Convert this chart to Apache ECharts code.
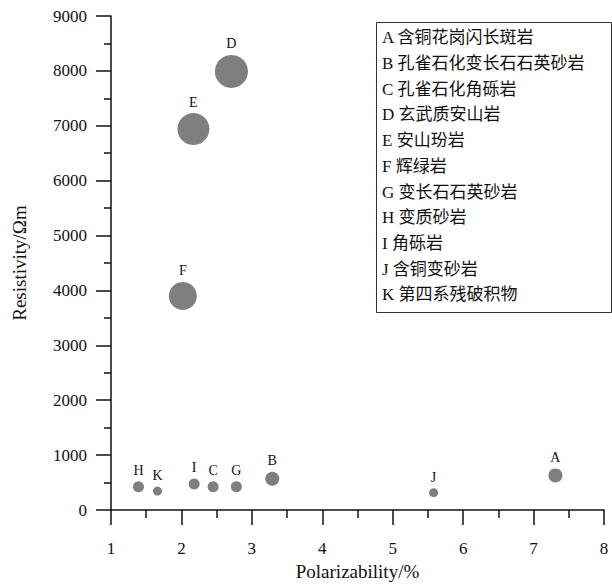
<!DOCTYPE html>
<html><head><meta charset="utf-8">
<script src="https://cdn.jsdelivr.net/npm/echarts@6/dist/echarts.min.js"></script>
<style>html,body{margin:0;padding:0;background:#fff}#c{width:612px;height:587px}</style>
</head><body><div id="c"></div>
<script>
// Data
const codes = ['A','B','C','D','E','F','G','H','I','J','K'];
const rockNames = ['含铜花岗闪长斑岩','孔雀石化变长石石英砂岩','孔雀石化角砾岩','玄武质安山岩','安山玢岩','辉绿岩','变长石石英砂岩','变质砂岩','角砾岩','含铜变砂岩','第四系残破积物'];
const polarizability = [7.31, 3.29, 2.45, 2.71, 2.17, 2.02, 2.78, 1.39, 2.18, 5.58, 1.66];
const resistivity = [630, 570, 425, 7990, 6940, 3900, 425, 425, 475, 315, 345];
const xTicks = [1,2,3,4,5,6,7,8];
const yTicks = [0,1000,2000,3000,4000,5000,6000,7000,8000,9000];

// Styles (marker diameters in px)
const markerSize = [14, 14, 11, 33, 32, 28, 11, 11, 11, 9, 9];

const serif = '"Liberation Serif","Times New Roman",serif';
const cjk = '"Liberation Serif","Noto Sans CJK SC",serif';

const points = codes.map((c,i)=>({name:c, value:[polarizability[i], resistivity[i]], symbolSize: markerSize[i]}));
const legendText = codes.map((c,i)=> c + ' ' + rockNames[i]).join('\n');

const chart = echarts.init(document.getElementById('c'), null, {renderer:'svg'});
chart.setOption({
  animation:false,
  backgroundColor:'#fff',
  grid:{left:111, right:8, top:16, bottom:77, containLabel:false},
  title:{
    text: legendText,
    left: 376, top: 22,
    borderColor:'#333', borderWidth:1,
    padding:[3,27,5,6],
    textStyle:{fontFamily:cjk, fontSize:17, fontWeight:'normal', color:'#111', lineHeight:25.7}
  },
  xAxis:{
    type:'value', min:xTicks[0], max:xTicks[xTicks.length-1], interval:1,
    name:'Polarizability/%', nameLocation:'middle', nameGap:51,
    nameTextStyle:{fontFamily:serif, fontSize:19, color:'#111'},
    axisLine:{show:true, lineStyle:{color:'#111', width:1.5}},
    axisTick:{show:true, inside:false, length:15, lineStyle:{color:'#111', width:1.5}},
    minorTick:{show:true, splitNumber:2, length:8, lineStyle:{color:'#111', width:1.5}},
    splitLine:{show:false},
    axisLabel:{fontFamily:serif, fontSize:17, color:'#111', margin:30}
  },
  yAxis:{
    type:'value', min:yTicks[0], max:yTicks[yTicks.length-1], interval:1000,
    name:'Resistivity/Ωm', nameLocation:'middle', nameGap:82,
    nameTextStyle:{fontFamily:serif, fontSize:19, color:'#111'},
    axisLine:{show:true, lineStyle:{color:'#111', width:1.5}},
    axisTick:{show:true, inside:false, length:15, lineStyle:{color:'#111', width:1.5}},
    minorTick:{show:true, splitNumber:2, length:7, lineStyle:{color:'#111', width:1.5}},
    splitLine:{show:false},
    axisLabel:{fontFamily:serif, fontSize:17, color:'#111', margin:24, formatter: v => String(v)}
  },
  series:[{
    type:'scatter',
    data: points,
    itemStyle:{color:'#7f7f7f', opacity:1},
    label:{show:true, position:'top', distance:4, formatter:'{b}', fontFamily:serif, fontSize:14, color:'#111'}
  }]
});
</script>
</body></html>
